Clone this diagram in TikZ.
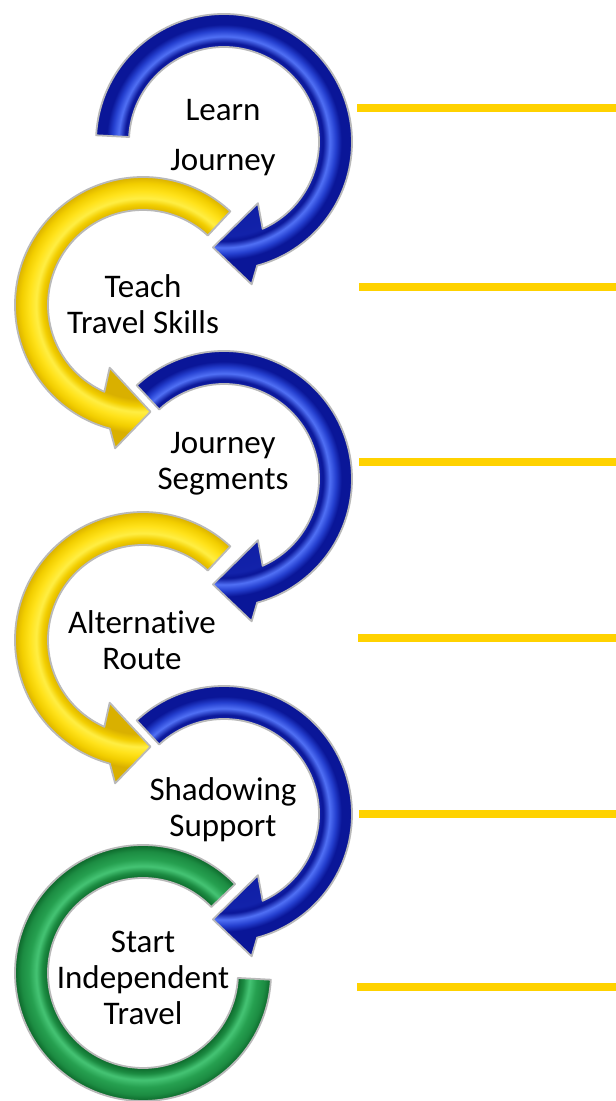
\documentclass[tikz,border=0pt]{standalone}
\usepackage{fontspec}
\setmainfont{Carlito}[Ligatures=NoCommon]
\usepackage{xcolor}
\usepackage{tikz}

\definecolor{leadergold}{HTML}{FFD200}
\definecolor{bluedark}{HTML}{0A1698}
\definecolor{blueedge}{HTML}{1222AA}
\definecolor{bluemid}{HTML}{2540D0}
\definecolor{bluelight}{HTML}{5070F5}
\definecolor{yellowdark}{HTML}{D9B000}
\definecolor{yellowmid}{HTML}{F2CE00}
\definecolor{yellowlight}{HTML}{FFEE44}
\definecolor{yellowbright}{HTML}{FFE21A}
\definecolor{greendark}{HTML}{0B6529}
\definecolor{greenmid}{HTML}{1C8C42}
\definecolor{greenlight}{HTML}{45C474}
\definecolor{greenbright}{HTML}{26A050}

% band shadings, 1bp of shading = 6pt of radius
\pgfdeclareradialshading{blueband}{\pgfpointorigin}{color(0bp)=(bluedark); color(15.7bp)=(blueedge); color(16.5bp)=(bluedark); color(17.6bp)=(bluelight); color(18.6bp)=(bluemid); color(19.6bp)=(bluedark); color(21.4bp)=(bluedark); color(50bp)=(bluedark)}
\pgfdeclareradialshading{yellowband}{\pgfpointorigin}{color(0bp)=(yellowdark); color(15.7bp)=(yellowdark); color(16.8bp)=(yellowmid); color(17.8bp)=(yellowlight); color(19bp)=(yellowbright); color(20.3bp)=(yellowmid); color(21.4bp)=(yellowdark); color(50bp)=(yellowdark)}
\pgfdeclareradialshading{greenband}{\pgfpointorigin}{color(0bp)=(greendark); color(15.7bp)=(greendark); color(16.8bp)=(greenmid); color(17.8bp)=(greenlight); color(19bp)=(greenbright); color(20.3bp)=(greenmid); color(21.4bp)=(greendark); color(50bp)=(greendark)}

\tikzset{
  arrowband/.style 2 args={preaction={draw=white, line width=6pt}, draw=gray!55, line width=1.8pt, line join=round,
    path picture={\fill[shading=#1] (#2) circle[radius=150];}},
  steptext/.style={align=center, inner sep=0pt, font=\fontsize{33}{36}\selectfont},
  leader/.style={draw=leadergold, line width=7.5pt}
}

\begin{document}
\begin{tikzpicture}[x=1pt, y=1pt]
        \useasboundingbox (0,0) rectangle (616,1101);

        % ring centres
        \coordinate (c1) at (224,959);
        \coordinate (c2) at (143,796);
        \coordinate (c3) at (224,622);
        \coordinate (c4) at (143,461);
        \coordinate (c5) at (224,287);
        \coordinate (c6) at (143,128);

        % Step 6 green ring
        \begin{scope}[shift={(c6)}]
            \path[arrowband={greenband}{c6}] (44:128) arc[start angle=44, end angle=357, radius=128]
                -- (357:95) arc[start angle=357, end angle=44, radius=95] -- cycle;
        \end{scope}

        % Step 5 blue arrow
        \begin{scope}[shift={(c5)}]
            \path[arrowband={blueband}{c5}] (133:128) arc[start angle=133, end angle=-75, radius=128]
                -- (-79:145) -- (-96:106) -- (-61:70) -- (-66:95) arc[start angle=-66, end angle=133, radius=95] -- cycle;
        \end{scope}

        % Step 4 yellow arrow
        \begin{scope}[shift={(c4)}]
            \path[arrowband={yellowband}{c4}] (47:128) arc[start angle=47, end angle=255, radius=128]
                -- (259:146) -- (274:107) -- (242:71) -- (246:95) arc[start angle=246, end angle=47, radius=95] -- cycle;
        \end{scope}

        % Step 3 blue arrow
        \begin{scope}[shift={(c3)}]
            \path[arrowband={blueband}{c3}] (133:128) arc[start angle=133, end angle=-75, radius=128]
                -- (-79:145) -- (-96:106) -- (-61:70) -- (-66:95) arc[start angle=-66, end angle=133, radius=95] -- cycle;
        \end{scope}

        % Step 2 yellow arrow
        \begin{scope}[shift={(c2)}]
            \path[arrowband={yellowband}{c2}] (47:128) arc[start angle=47, end angle=255, radius=128]
                -- (259:146) -- (274:107) -- (242:71) -- (246:95) arc[start angle=246, end angle=47, radius=95] -- cycle;
        \end{scope}

        % Step 1 blue arrow
        \begin{scope}[shift={(c1)}]
            \path[arrowband={blueband}{c1}] (177:128) arc[start angle=177, end angle=-75, radius=128]
                -- (-79:145) -- (-96:106) -- (-61:70) -- (-66:95) arc[start angle=-66, end angle=177, radius=95] -- cycle;
        \end{scope}

        % step labels
        \node[steptext] (learn) at (223,963) {Learn\\[14pt]Journey};
        \node[steptext] (teach) at (143,797) {Teach\\Travel Skills};
        \node[steptext] (segments) at (223,637) {Journey\\Segments};
        \node[steptext] (route) at (142,461) {Alternative\\Route};
        \node[steptext] (shadow) at (223,291) {Shadowing\\Support};
        \node[steptext] (travel) at (143,123) {Start\\Independent\\Travel};

        % leader lines
        \coordinate (l1s) at (357,993); \coordinate (l1e) at (616,993);
        \coordinate (l2s) at (359,814); \coordinate (l2e) at (616,814);
        \coordinate (l3s) at (359,639); \coordinate (l3e) at (616,639);
        \coordinate (l4s) at (358,463); \coordinate (l4e) at (616,463);
        \coordinate (l5s) at (359,287); \coordinate (l5e) at (616,287);
        \coordinate (l6s) at (357,114); \coordinate (l6e) at (616,114);
        \draw[leader] (l1s) -- (l1e);
        \draw[leader] (l2s) -- (l2e);
        \draw[leader] (l3s) -- (l3e);
        \draw[leader] (l4s) -- (l4e);
        \draw[leader] (l5s) -- (l5e);
        \draw[leader] (l6s) -- (l6e);
    \end{tikzpicture}
\end{document}
